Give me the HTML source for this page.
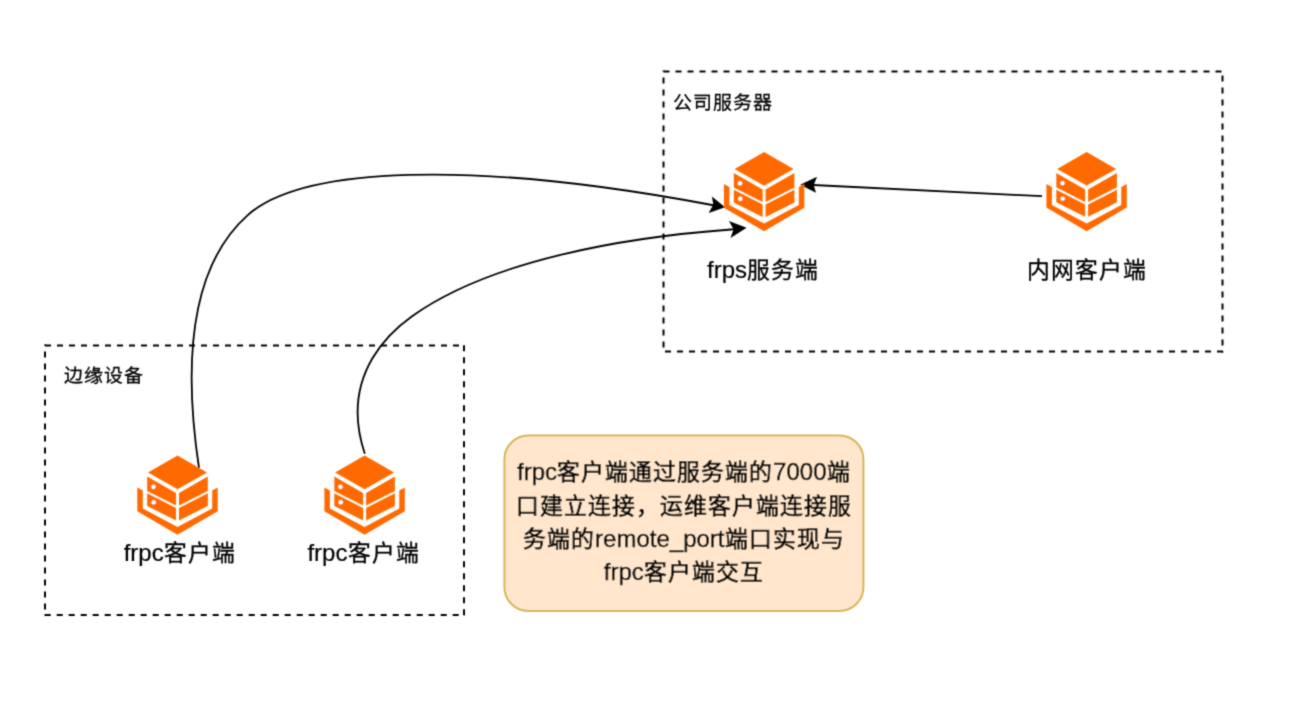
<!DOCTYPE html>
<html lang="zh-CN">
<head>
<meta charset="utf-8">
<style>
html,body{margin:0;padding:0;background:#fff;}
body{width:1299px;height:706px;overflow:hidden;position:relative;font-family:"Liberation Sans",sans-serif;}
svg{position:absolute;left:0;top:0;}
text{font-family:"Liberation Sans",sans-serif;fill:#000;stroke:#000;}
</style>
</head>
<body>
<svg width="1299" height="706" viewBox="0 0 1299 706">
<defs>
<filter id="bl" x="0" y="0" width="1299" height="706" filterUnits="userSpaceOnUse"><feConvolveMatrix order="3" kernelMatrix="1 4 1 4 16 4 1 4 1" divisor="36" edgeMode="duplicate"/></filter>

</defs>
<g filter="url(#bl)">
<!-- dashed containers -->
<g fill="none" stroke="#000" stroke-width="2" stroke-dasharray="6 6"><path d="M662.5,71.5 H1223.5" stroke-dashoffset="11"/><path d="M1222.5,70.5 V352.5" stroke-dashoffset="7"/><path d="M1223.5,351.5 H662.5" stroke-dashoffset="11.5"/><path d="M663.5,352.5 V70.5" stroke-dashoffset="7"/></g>
<g fill="none" stroke="#000" stroke-width="2" stroke-dasharray="6 6"><path d="M44,345.5 H465" stroke-dashoffset="11"/><path d="M464,344.5 V616" stroke-dashoffset="11.3"/><path d="M465,615 H44" stroke-dashoffset="5.7"/><path d="M45,616 V344.5" stroke-dashoffset="5.5"/></g>
<!-- edges -->
<path d="M199.0,468.0 C175.4,310.7 212.7,246.4 247.5,215.3 C301.4,167.1 468.7,159.2 712.0,205.0 L714.5,204.9" fill="none" stroke="#000" stroke-width="1.8"/>
<path d="M364.8,453.7 C337.3,371.5 397.3,326.7 412.1,316.2 C490.2,260.4 623.6,237.3 731.0,229.5 L735,229.2" fill="none" stroke="#000" stroke-width="1.8"/>
<path d="M1042,196.2 L813,185" fill="none" stroke="#000" stroke-width="1.8"/>
<!-- arrowheads -->
<path d="M725.1,207.3 L711.9,196.6 L713.3,204.5 L708.7,212.9 Z" fill="#000"/>
<path d="M746.6,227.8 L728.9,221 L733.6,229.2 L730.5,238 Z" fill="#000"/>
<path d="M800.1,184.7 L817.1,176.8 L813.7,184.9 L816,192.7 Z" fill="#000"/>
<!-- icons -->
<g transform="translate(723.9,152.1)">
  <path fill="#FF6A00" d="M40.2,0 L69.7,17 L40.2,33.6 L10.7,17 Z"/>
  <path fill="#FF6A00" d="M9.9,21 L38.7,37.5 L38.7,50 L9.9,35.3 Z"/>
  <path fill="#FF6A00" d="M9.9,37.7 L38.7,52.5 L38.7,64.8 L9.9,50.3 Z"/>
  <path fill="#FF6A00" d="M70.5,21 L41.7,37.5 L41.7,50 L70.5,35.3 Z"/>
  <path fill="#FF6A00" d="M70.5,37.7 L41.7,52.5 L41.7,64.8 L70.5,50.3 Z"/>
  <circle cx="16.1" cy="31.1" r="2.2" fill="#fff"/>
  <circle cx="16.3" cy="46.6" r="2.2" fill="#fff"/>
  <path fill="#FF6A00" d="M0,32 L5.5,35 L5.5,53 L40.2,71.5 L74.9,53 L74.9,35 L80.4,32 L80.4,55.6 L40.2,79.2 L0,55.6 Z"/>
</g>
<g transform="translate(1046.4,152)">
  <path fill="#FF6A00" d="M40.2,0 L69.7,17 L40.2,33.6 L10.7,17 Z"/>
  <path fill="#FF6A00" d="M9.9,21 L38.7,37.5 L38.7,50 L9.9,35.3 Z"/>
  <path fill="#FF6A00" d="M9.9,37.7 L38.7,52.5 L38.7,64.8 L9.9,50.3 Z"/>
  <path fill="#FF6A00" d="M70.5,21 L41.7,37.5 L41.7,50 L70.5,35.3 Z"/>
  <path fill="#FF6A00" d="M70.5,37.7 L41.7,52.5 L41.7,64.8 L70.5,50.3 Z"/>
  <circle cx="16.1" cy="31.1" r="2.2" fill="#fff"/>
  <circle cx="16.3" cy="46.6" r="2.2" fill="#fff"/>
  <path fill="#FF6A00" d="M0,32 L5.5,35 L5.5,53 L40.2,71.5 L74.9,53 L74.9,35 L80.4,32 L80.4,55.6 L40.2,79.2 L0,55.6 Z"/>
</g>
<g transform="translate(137.3,455.6)">
  <path fill="#FF6A00" d="M40.2,0 L69.7,17 L40.2,33.6 L10.7,17 Z"/>
  <path fill="#FF6A00" d="M9.9,21 L38.7,37.5 L38.7,50 L9.9,35.3 Z"/>
  <path fill="#FF6A00" d="M9.9,37.7 L38.7,52.5 L38.7,64.8 L9.9,50.3 Z"/>
  <path fill="#FF6A00" d="M70.5,21 L41.7,37.5 L41.7,50 L70.5,35.3 Z"/>
  <path fill="#FF6A00" d="M70.5,37.7 L41.7,52.5 L41.7,64.8 L70.5,50.3 Z"/>
  <circle cx="16.1" cy="31.1" r="2.2" fill="#fff"/>
  <circle cx="16.3" cy="46.6" r="2.2" fill="#fff"/>
  <path fill="#FF6A00" d="M0,32 L5.5,35 L5.5,53 L40.2,71.5 L74.9,53 L74.9,35 L80.4,32 L80.4,55.6 L40.2,79.2 L0,55.6 Z"/>
</g>
<g transform="translate(324.4,455.6)">
  <path fill="#FF6A00" d="M40.2,0 L69.7,17 L40.2,33.6 L10.7,17 Z"/>
  <path fill="#FF6A00" d="M9.9,21 L38.7,37.5 L38.7,50 L9.9,35.3 Z"/>
  <path fill="#FF6A00" d="M9.9,37.7 L38.7,52.5 L38.7,64.8 L9.9,50.3 Z"/>
  <path fill="#FF6A00" d="M70.5,21 L41.7,37.5 L41.7,50 L70.5,35.3 Z"/>
  <path fill="#FF6A00" d="M70.5,37.7 L41.7,52.5 L41.7,64.8 L70.5,50.3 Z"/>
  <circle cx="16.1" cy="31.1" r="2.2" fill="#fff"/>
  <circle cx="16.3" cy="46.6" r="2.2" fill="#fff"/>
  <path fill="#FF6A00" d="M0,32 L5.5,35 L5.5,53 L40.2,71.5 L74.9,53 L74.9,35 L80.4,32 L80.4,55.6 L40.2,79.2 L0,55.6 Z"/>
</g>
<!-- note -->
<rect x="504.4" y="435.5" width="359" height="175.5" rx="24" ry="24" fill="#FFE6CC" stroke="#D6B656" stroke-width="2"/>
<!-- labels -->
<text x="0" y="0" font-size="20" text-anchor="middle" stroke-width="0.29" transform="translate(683.00,109.3) scale(0.95,0.93)">公</text>
<text x="0" y="0" font-size="20" text-anchor="middle" stroke-width="0.29" transform="translate(703.00,109.3) scale(0.95,0.93)">司</text>
<text x="0" y="0" font-size="20" text-anchor="middle" stroke-width="0.29" transform="translate(723.00,109.3) scale(0.95,0.93)">服</text>
<text x="0" y="0" font-size="20" text-anchor="middle" stroke-width="0.29" transform="translate(743.00,109.3) scale(0.95,0.93)">务</text>
<text x="0" y="0" font-size="20" text-anchor="middle" stroke-width="0.29" transform="translate(763.00,109.3) scale(0.95,0.93)">器</text>
<text x="0" y="0" font-size="20" text-anchor="middle" stroke-width="0.29" transform="translate(74.00,382) scale(0.95,0.93)">边</text>
<text x="0" y="0" font-size="20" text-anchor="middle" stroke-width="0.29" transform="translate(94.00,382) scale(0.95,0.93)">缘</text>
<text x="0" y="0" font-size="20" text-anchor="middle" stroke-width="0.29" transform="translate(114.00,382) scale(0.95,0.93)">设</text>
<text x="0" y="0" font-size="20" text-anchor="middle" stroke-width="0.29" transform="translate(134.00,382) scale(0.95,0.93)">备</text>
<text x="706.99" y="278.3" font-size="24" stroke-width="0.20">frps</text>
<text x="0" y="0" font-size="24" text-anchor="middle" stroke-width="0.35" transform="translate(759.00,278.3) scale(0.95,0.93)">服</text>
<text x="0" y="0" font-size="24" text-anchor="middle" stroke-width="0.35" transform="translate(783.00,278.3) scale(0.95,0.93)">务</text>
<text x="0" y="0" font-size="24" text-anchor="middle" stroke-width="0.35" transform="translate(807.00,278.3) scale(0.95,0.93)">端</text>
<text x="0" y="0" font-size="24" text-anchor="middle" stroke-width="0.35" transform="translate(1038.30,278.3) scale(0.95,0.93)">内</text>
<text x="0" y="0" font-size="24" text-anchor="middle" stroke-width="0.35" transform="translate(1062.30,278.3) scale(0.95,0.93)">网</text>
<text x="0" y="0" font-size="24" text-anchor="middle" stroke-width="0.35" transform="translate(1086.30,278.3) scale(0.95,0.93)">客</text>
<text x="0" y="0" font-size="24" text-anchor="middle" stroke-width="0.35" transform="translate(1110.30,278.3) scale(0.95,0.93)">户</text>
<text x="0" y="0" font-size="24" text-anchor="middle" stroke-width="0.35" transform="translate(1134.30,278.3) scale(0.95,0.93)">端</text>
<text x="123.69" y="561.4" font-size="24" stroke-width="0.20">frpc</text>
<text x="0" y="0" font-size="24" text-anchor="middle" stroke-width="0.35" transform="translate(175.70,561.4) scale(0.95,0.93)">客</text>
<text x="0" y="0" font-size="24" text-anchor="middle" stroke-width="0.35" transform="translate(199.70,561.4) scale(0.95,0.93)">户</text>
<text x="0" y="0" font-size="24" text-anchor="middle" stroke-width="0.35" transform="translate(223.70,561.4) scale(0.95,0.93)">端</text>
<text x="307.39" y="561.4" font-size="24" stroke-width="0.20">frpc</text>
<text x="0" y="0" font-size="24" text-anchor="middle" stroke-width="0.35" transform="translate(359.40,561.4) scale(0.95,0.93)">客</text>
<text x="0" y="0" font-size="24" text-anchor="middle" stroke-width="0.35" transform="translate(383.40,561.4) scale(0.95,0.93)">户</text>
<text x="0" y="0" font-size="24" text-anchor="middle" stroke-width="0.35" transform="translate(407.40,561.4) scale(0.95,0.93)">端</text>
<text x="517.10" y="480.2" font-size="24" stroke-width="0.40">frpc</text>
<text x="0" y="0" font-size="24" text-anchor="middle" stroke-width="0.75" transform="translate(569.10,480.2) scale(0.95,0.93)">客</text>
<text x="0" y="0" font-size="24" text-anchor="middle" stroke-width="0.75" transform="translate(593.10,480.2) scale(0.95,0.93)">户</text>
<text x="0" y="0" font-size="24" text-anchor="middle" stroke-width="0.75" transform="translate(617.10,480.2) scale(0.95,0.93)">端</text>
<text x="0" y="0" font-size="24" text-anchor="middle" stroke-width="0.75" transform="translate(641.10,480.2) scale(0.95,0.93)">通</text>
<text x="0" y="0" font-size="24" text-anchor="middle" stroke-width="0.75" transform="translate(665.10,480.2) scale(0.95,0.93)">过</text>
<text x="0" y="0" font-size="24" text-anchor="middle" stroke-width="0.75" transform="translate(689.10,480.2) scale(0.95,0.93)">服</text>
<text x="0" y="0" font-size="24" text-anchor="middle" stroke-width="0.75" transform="translate(713.10,480.2) scale(0.95,0.93)">务</text>
<text x="0" y="0" font-size="24" text-anchor="middle" stroke-width="0.75" transform="translate(737.10,480.2) scale(0.95,0.93)">端</text>
<text x="0" y="0" font-size="24" text-anchor="middle" stroke-width="0.75" transform="translate(761.10,480.2) scale(0.95,0.93)">的</text>
<text x="773.10" y="480.2" font-size="24" stroke-width="0.40">7000</text>
<text x="0" y="0" font-size="24" text-anchor="middle" stroke-width="0.75" transform="translate(838.50,480.2) scale(0.95,0.93)">端</text>
<text x="0" y="0" font-size="24" text-anchor="middle" stroke-width="0.75" transform="translate(527.80,513.7) scale(0.95,0.93)">口</text>
<text x="0" y="0" font-size="24" text-anchor="middle" stroke-width="0.75" transform="translate(551.80,513.7) scale(0.95,0.93)">建</text>
<text x="0" y="0" font-size="24" text-anchor="middle" stroke-width="0.75" transform="translate(575.80,513.7) scale(0.95,0.93)">立</text>
<text x="0" y="0" font-size="24" text-anchor="middle" stroke-width="0.75" transform="translate(599.80,513.7) scale(0.95,0.93)">连</text>
<text x="0" y="0" font-size="24" text-anchor="middle" stroke-width="0.75" transform="translate(623.80,513.7) scale(0.95,0.93)">接</text>
<text x="0" y="0" font-size="24" text-anchor="middle" stroke-width="0.75" transform="translate(647.80,513.7) scale(0.95,0.93)">，</text>
<text x="0" y="0" font-size="24" text-anchor="middle" stroke-width="0.75" transform="translate(671.80,513.7) scale(0.95,0.93)">运</text>
<text x="0" y="0" font-size="24" text-anchor="middle" stroke-width="0.75" transform="translate(695.80,513.7) scale(0.95,0.93)">维</text>
<text x="0" y="0" font-size="24" text-anchor="middle" stroke-width="0.75" transform="translate(719.80,513.7) scale(0.95,0.93)">客</text>
<text x="0" y="0" font-size="24" text-anchor="middle" stroke-width="0.75" transform="translate(743.80,513.7) scale(0.95,0.93)">户</text>
<text x="0" y="0" font-size="24" text-anchor="middle" stroke-width="0.75" transform="translate(767.80,513.7) scale(0.95,0.93)">端</text>
<text x="0" y="0" font-size="24" text-anchor="middle" stroke-width="0.75" transform="translate(791.80,513.7) scale(0.95,0.93)">连</text>
<text x="0" y="0" font-size="24" text-anchor="middle" stroke-width="0.75" transform="translate(815.80,513.7) scale(0.95,0.93)">接</text>
<text x="0" y="0" font-size="24" text-anchor="middle" stroke-width="0.75" transform="translate(839.80,513.7) scale(0.95,0.93)">服</text>
<text x="0" y="0" font-size="24" text-anchor="middle" stroke-width="0.75" transform="translate(535.10,547.4) scale(0.95,0.93)">务</text>
<text x="0" y="0" font-size="24" text-anchor="middle" stroke-width="0.75" transform="translate(559.10,547.4) scale(0.95,0.93)">端</text>
<text x="0" y="0" font-size="24" text-anchor="middle" stroke-width="0.75" transform="translate(583.10,547.4) scale(0.95,0.93)">的</text>
<text x="595.10" y="547.4" font-size="24" stroke-width="0.40">remote_port</text>
<text x="0" y="0" font-size="24" text-anchor="middle" stroke-width="0.75" transform="translate(736.50,547.4) scale(0.95,0.93)">端</text>
<text x="0" y="0" font-size="24" text-anchor="middle" stroke-width="0.75" transform="translate(760.50,547.4) scale(0.95,0.93)">口</text>
<text x="0" y="0" font-size="24" text-anchor="middle" stroke-width="0.75" transform="translate(784.50,547.4) scale(0.95,0.93)">实</text>
<text x="0" y="0" font-size="24" text-anchor="middle" stroke-width="0.75" transform="translate(808.50,547.4) scale(0.95,0.93)">现</text>
<text x="0" y="0" font-size="24" text-anchor="middle" stroke-width="0.75" transform="translate(832.50,547.4) scale(0.95,0.93)">与</text>
<text x="603.79" y="580.4" font-size="24" stroke-width="0.40">frpc</text>
<text x="0" y="0" font-size="24" text-anchor="middle" stroke-width="0.75" transform="translate(655.80,580.4) scale(0.95,0.93)">客</text>
<text x="0" y="0" font-size="24" text-anchor="middle" stroke-width="0.75" transform="translate(679.80,580.4) scale(0.95,0.93)">户</text>
<text x="0" y="0" font-size="24" text-anchor="middle" stroke-width="0.75" transform="translate(703.80,580.4) scale(0.95,0.93)">端</text>
<text x="0" y="0" font-size="24" text-anchor="middle" stroke-width="0.75" transform="translate(727.80,580.4) scale(0.95,0.93)">交</text>
<text x="0" y="0" font-size="24" text-anchor="middle" stroke-width="0.75" transform="translate(751.80,580.4) scale(0.95,0.93)">互</text>
</g>
</svg>
</body>
</html>
